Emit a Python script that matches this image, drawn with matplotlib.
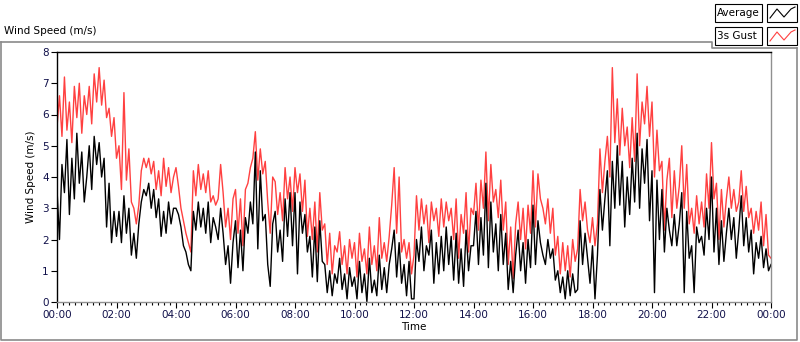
import matplotlib
matplotlib.use('Agg')
import matplotlib.pyplot as plt
from matplotlib.lines import Line2D
from matplotlib.patches import Rectangle
from matplotlib.ticker import MultipleLocator, FuncFormatter
import numpy as np

# 5-minute samples, one row per hour (00:00 .. 23:55), plus the final 24:00 value
gust_rows = [
    [5.6, 6.6, 5.3, 7.2, 5.5, 6.4, 5.1, 6.9, 5.9, 7.0, 5.4, 6.6],
    [6.0, 6.9, 5.7, 7.3, 6.4, 7.5, 6.3, 7.1, 5.9, 6.2, 5.3, 5.9],
    [4.6, 5.0, 3.6, 6.7, 3.9, 4.9, 3.2, 3.0, 2.5, 3.1, 4.2, 4.6],
    [4.3, 4.6, 4.1, 4.5, 3.6, 4.2, 3.4, 4.6, 3.7, 4.3, 3.5, 4.0],
    [4.3, 3.7, 3.0, 2.6, 2.2, 1.9, 1.6, 4.2, 3.4, 4.4, 3.6, 4.1],
    [3.5, 4.2, 3.2, 3.4, 3.1, 3.3, 4.4, 3.5, 2.4, 3.0, 2.0, 3.3],
    [3.6, 2.2, 3.3, 1.8, 3.6, 3.8, 4.3, 4.6, 5.45, 3.9, 4.9, 4.1],
    [4.5, 3.2, 2.2, 4.0, 3.85, 2.8, 3.5, 2.6, 4.3, 3.3, 4.0, 2.9],
    [4.3, 3.5, 4.1, 2.9, 3.9, 2.1, 3.0, 2.0, 3.2, 1.6, 3.5, 2.3],
    [2.5, 1.2, 2.2, 0.9, 1.8, 1.6, 2.25, 1.2, 1.8, 0.9, 2.0, 1.4],
    [1.9, 0.8, 2.2, 1.3, 1.7, 0.9, 2.4, 1.2, 1.8, 1.0, 2.7, 1.4],
    [1.9, 1.3, 2.1, 3.1, 4.3, 2.2, 4.0, 1.6, 2.0, 1.4, 1.9, 0.9],
    [1.5, 3.4, 2.3, 3.3, 2.5, 3.1, 1.9, 3.2, 2.6, 3.0, 2.1, 3.3],
    [2.4, 3.2, 2.6, 3.0, 2.0, 3.3, 1.4, 2.8, 2.2, 3.5, 1.6, 3.0],
    [2.8, 3.8, 2.3, 3.9, 3.0, 4.8, 2.6, 4.4, 3.2, 3.6, 2.7, 3.9],
    [2.3, 3.2, 1.2, 2.4, 0.75, 2.5, 3.2, 2.0, 3.0, 1.7, 3.1, 2.2],
    [4.2, 2.4, 4.1, 3.3, 3.0, 2.5, 3.3, 2.2, 3.0, 1.5, 2.1, 0.9],
    [1.9, 1.0, 1.8, 0.8, 2.0, 1.3, 1.7, 3.6, 2.6, 3.2, 2.3, 1.9],
    [2.7, 1.8, 2.5, 4.9, 3.5, 4.5, 5.3, 4.0, 7.5, 5.1, 6.5, 4.7],
    [6.2, 5.0, 5.6, 4.3, 5.9, 4.5, 7.3, 5.0, 6.4, 5.7, 6.9, 5.3],
    [6.4, 4.0, 5.5, 4.2, 4.5, 2.3, 3.9, 4.6, 2.7, 4.2, 3.0, 3.7],
    [5.0, 3.0, 4.4, 2.5, 3.0, 2.2, 3.4, 2.5, 3.2, 2.4, 4.1, 3.0],
    [5.1, 3.3, 3.8, 2.0, 3.6, 2.4, 3.3, 4.0, 3.0, 3.6, 2.9, 3.2],
    [4.2, 2.9, 3.7, 2.7, 3.0, 2.2, 2.9, 2.3, 3.2, 1.8, 2.8, 1.5],
]
gust_end = 1.4

avg_rows = [
    [3.6, 2.0, 4.4, 3.5, 5.2, 2.8, 4.6, 3.3, 5.4, 3.8, 4.8, 3.2],
    [4.0, 5.0, 3.6, 5.3, 4.4, 5.1, 4.0, 4.6, 2.4, 3.8, 1.9, 2.9],
    [2.1, 2.9, 1.9, 3.4, 2.2, 3.0, 1.5, 2.2, 1.4, 2.5, 3.2, 3.6],
    [3.4, 3.8, 3.0, 3.6, 2.7, 3.3, 2.1, 2.9, 2.2, 3.2, 2.5, 3.0],
    [3.0, 2.8, 2.4, 1.8, 1.6, 1.2, 1.0, 2.9, 2.3, 3.2, 2.4, 3.0],
    [2.2, 3.2, 1.9, 2.7, 2.4, 2.0, 3.0, 2.2, 1.2, 1.8, 0.6, 1.9],
    [2.6, 1.1, 2.3, 1.0, 2.7, 2.2, 3.2, 2.5, 4.8, 1.7, 4.2, 2.6],
    [2.8, 1.2, 0.5, 2.5, 2.9, 1.6, 2.3, 1.3, 3.3, 2.1, 3.5, 1.8],
    [3.5, 0.9, 3.2, 2.2, 2.8, 1.6, 2.1, 0.8, 2.4, 0.65, 2.6, 1.3],
    [1.2, 0.3, 1.0, 0.2, 0.9, 0.6, 1.4, 0.4, 0.9, 0.1, 1.1, 0.5],
    [0.8, 0.1, 1.3, 0.3, 0.9, 0.0, 1.4, 0.3, 0.7, 0.2, 1.5, 0.4],
    [1.1, 0.3, 1.2, 1.7, 2.3, 0.8, 1.9, 0.6, 1.2, 0.2, 1.3, 0.1],
    [0.1, 2.0, 1.3, 2.4, 1.0, 1.8, 1.5, 2.3, 0.6, 1.9, 0.9, 2.1],
    [1.0, 2.4, 1.2, 2.1, 0.7, 2.2, 0.6, 1.7, 0.5, 2.3, 1.0, 1.8],
    [1.8, 2.9, 1.2, 2.7, 1.5, 3.8, 1.1, 3.2, 1.6, 2.5, 1.0, 2.8],
    [1.2, 2.2, 0.4, 1.3, 0.3, 1.5, 2.3, 1.0, 1.9, 0.6, 2.0, 1.1],
    [3.1, 1.2, 2.6, 1.9, 1.5, 1.2, 2.0, 1.4, 1.7, 0.7, 1.0, 0.3],
    [0.8, 0.1, 1.0, 0.2, 0.9, 0.3, 0.4, 2.6, 1.2, 2.2, 1.4, 0.6],
    [1.8, 0.1, 1.5, 3.6, 2.3, 3.3, 4.2, 1.8, 4.5, 3.0, 5.0, 3.1],
    [4.5, 2.4, 4.0, 2.8, 4.6, 3.2, 5.4, 3.0, 4.9, 3.8, 5.2, 2.6],
    [4.2, 0.3, 3.9, 2.0, 3.6, 1.6, 3.0, 2.3, 1.8, 2.8, 1.8, 2.5],
    [3.5, 0.3, 2.9, 1.4, 1.8, 0.3, 2.4, 1.9, 2.1, 1.5, 3.0, 2.0],
    [4.0, 1.6, 3.0, 1.2, 2.6, 1.3, 2.2, 3.0, 2.0, 2.7, 1.4, 2.3],
    [3.4, 1.8, 2.7, 1.6, 2.3, 0.9, 1.9, 1.4, 2.1, 1.1, 1.7, 1.0],
]
avg_end = 1.2

gust = [v for row in gust_rows for v in row] + [gust_end]
avg = [v for row in avg_rows for v in row] + [avg_end]
hours = np.arange(len(gust)) * 5 / 60.0

plt.rcParams['font.family'] = 'DejaVu Sans'
label_col = '#10104a'

fig = plt.figure(figsize=(8, 3.42), dpi=100)
ax = fig.add_axes([57 / 800, 40 / 342, 714 / 800, 250 / 342])

ax.plot(hours, gust, color='#ff4040', linewidth=1.0)
ax.plot(hours, avg, color='black', linewidth=1.0)

ax.set_xlim(0, 24)
ax.set_ylim(0, 8)
ax.xaxis.set_major_locator(MultipleLocator(2))
ax.xaxis.set_minor_locator(MultipleLocator(0.2))
ax.xaxis.set_major_formatter(FuncFormatter(lambda v, p: '%02d:00' % (int(round(v)) % 24)))
ax.yaxis.set_major_locator(MultipleLocator(1))
ax.tick_params(axis='both', labelsize=7.5, labelcolor=label_col, direction='out')
ax.tick_params(axis='x', which='major', length=4, width=0.8, color='black', pad=2)
ax.tick_params(axis='x', which='minor', length=2.5, width=0.8, color='black')
ax.tick_params(axis='y', which='major', length=4, width=0.8, color='black', pad=2)

ax.spines['left'].set_color('black')
ax.spines['top'].set_color('black')
ax.spines['right'].set_color('#909090')
ax.spines['bottom'].set_color('#909090')
for s in ax.spines.values():
    s.set_linewidth(1.0)

ax.set_xlabel('Time', fontsize=7.5, labelpad=1)
ax.set_ylabel('Wind Speed (m/s)', fontsize=7.5, labelpad=4)

# chart title and outer frame
fig.text(4 / 800, 1 - 31 / 342, 'Wind Speed (m/s)', fontsize=7.5, va='center', ha='left')
fig.add_artist(Line2D([1 / 800, 1 / 800, 797 / 800, 797 / 800],
                      [1 - 42 / 342, 1 - 340 / 342, 1 - 340 / 342, 1 - 48 / 342],
                      color='#8a8a8a', linewidth=1.2, transform=fig.transFigure))
fig.add_artist(Line2D([1 / 800, 712 / 800, 712 / 800, 797 / 800],
                      [1 - 42 / 342, 1 - 42 / 342, 1 - 48 / 342, 1 - 48 / 342],
                      color='#8a8a8a', linewidth=1.2, transform=fig.transFigure))

# legend in LabVIEW style
legend_names = ['Average', '3s Gust']
legend_colors = ['black', '#ff4040']
for i, (name, col) in enumerate(zip(legend_names, legend_colors)):
    top = 4 + i * 23
    fig.add_artist(Rectangle((715 / 800, 1 - (top + 18) / 342), 47 / 800, 18 / 342,
                             transform=fig.transFigure, facecolor='white',
                             edgecolor='black', linewidth=0.8))
    fig.text(717 / 800, 1 - (top + 9) / 342, name, fontsize=7.5, va='center', ha='left')
    fig.add_artist(Rectangle((767 / 800, 1 - (top + 18) / 342), 30 / 800, 18 / 342,
                             transform=fig.transFigure, facecolor='white',
                             edgecolor='black', linewidth=0.8))
    zx = [770, 777, 784, 791, 795]
    zy = [top + 14, top + 5, top + 13, top + 5, top + 3]
    fig.add_artist(Line2D([x / 800 for x in zx], [1 - y / 342 for y in zy],
                          color=col, linewidth=0.8, transform=fig.transFigure))

fig.savefig('out.png', dpi=100)
